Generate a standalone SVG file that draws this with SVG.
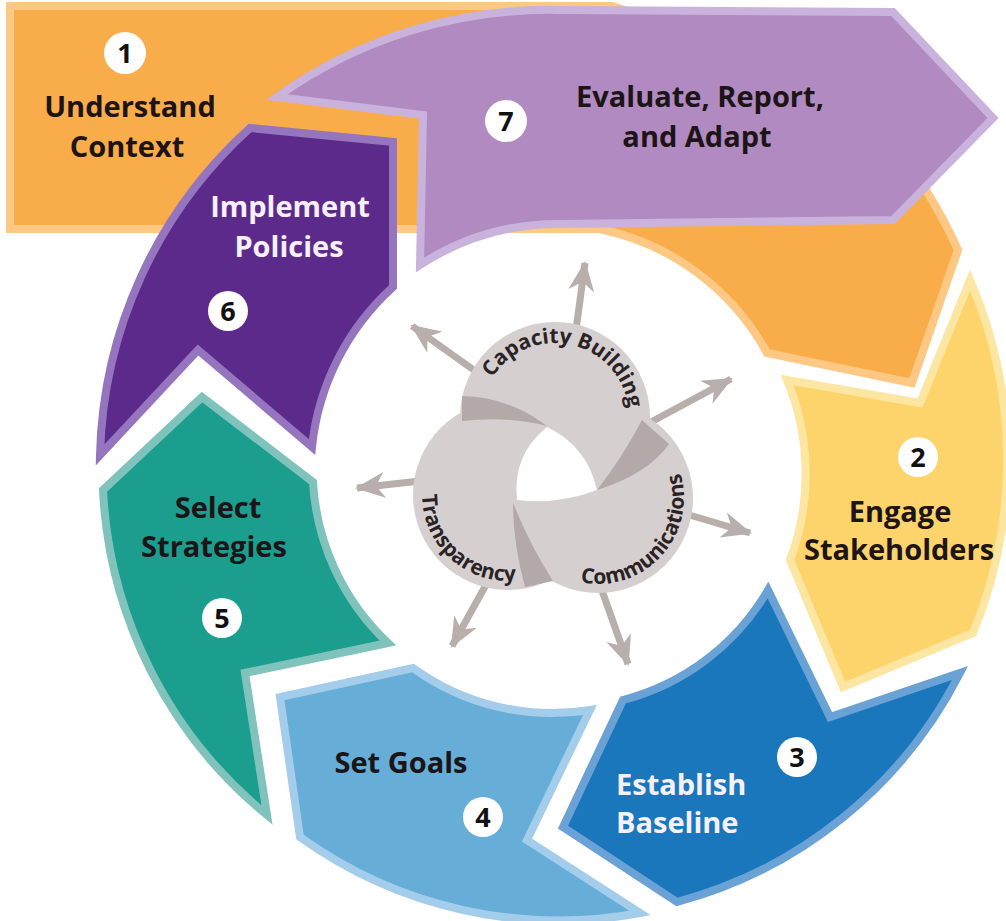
<svg xmlns="http://www.w3.org/2000/svg" width="1006" height="921" viewBox="0 0 1006 921">
<style>
.lbl{font-family:"Open Sans","Liberation Sans",sans-serif;font-weight:700;font-size:29px;text-anchor:middle;fill:#1c1416}
.wl{fill:#f6f0fa}
.num{font-family:"Open Sans","Liberation Sans",sans-serif;font-weight:700;font-size:27px;text-anchor:middle;fill:#111}
.nc{fill:#ffffff}
.ct{font-family:"Open Sans","Liberation Sans",sans-serif;font-weight:700;font-size:21px;fill:#2a2224}
.seg{stroke-width:8;stroke-linejoin:miter}
.disc{fill:#d5cfcf}
.band{fill:#b3a9a8}
.arr{stroke:#b8aeac;stroke-width:7;fill:none;marker-end:url(#ah)}
</style>
<defs>
<marker id="ah" viewBox="0 0 30 28" refX="28" refY="14" markerWidth="30" markerHeight="28" orient="auto" markerUnits="userSpaceOnUse"><path d="M0,1 L30,14 L0,27 L9,14 Z" fill="#b8aeac"/></marker>
<path id="tpCap" d="M490.9,380 A74,74 0 0,1 628.7,410.6"/>
<path id="tpTra" d="M437.6,445.7 A86,86 0 0,0 563.3,560.9"/>
<path id="tpCom" d="M548.7,568.4 A86,86 0 0,0 663.9,442.7"/>
</defs>
<rect width="1006" height="921" fill="#ffffff"/>

<g id="step1">
<path class="seg" d="M10,6 L612,6 L900,100 L927,192 A465,465 0 0,1 958,250 L912,383 L767,353 A248,248 0 0,0 600,229 L10,229 Z" fill="#f9ad4a" stroke="#fcc883"/>
<circle class="nc" cx="125" cy="53" r="21"/>
<text class="num" x="125" y="63">1</text>
<text class="lbl" x="130" y="117">Understand</text>
<text class="lbl" x="127" y="157">Context</text>
</g>

<g id="step7">
<path class="seg" d="M277,97 A468,468 0 0,1 560,10 L893,12 L993,118 L893,220 L560,224 A254,254 0 0,0 420,265 L423,115 Z" fill="#b08ac1" stroke="#c9b3dc"/>
<circle class="nc" cx="506" cy="121" r="21"/>
<text class="num" x="506" y="131">7</text>
<text class="lbl" x="700" y="107">Evaluate, Report,</text>
<text class="lbl" x="697" y="147">and Adapt</text>
</g>

<g id="step6">
<path class="seg" d="M312,447 L198,350 L100,455 A455,455 0 0,1 250,128 L393,142 L393,287 A250,250 0 0,0 312,447 Z" fill="#5c2a8b" stroke="#9576be"/>
<text class="lbl wl" x="290" y="217">Implement</text>
<text class="lbl wl" x="289" y="257">Policies</text>
<circle class="nc" cx="228" cy="311" r="20"/>
<text class="num" x="228" y="321">6</text>
</g>

<g id="step5">
<path class="seg" d="M388,643 L245,673 L267,815 A447,447 0 0,1 103,490 L202,397 L313,482 A240,240 0 0,0 388,643 Z" fill="#1c9e8f" stroke="#80c3bc"/>
<text class="lbl" x="218" y="518">Select</text>
<text class="lbl" x="214" y="557">Strategies</text>
<circle class="nc" cx="222" cy="618" r="20"/>
<text class="num" x="222" y="628">5</text>
</g>

<g id="step4">
<path class="seg" d="M590,710 L527,840 L640,913 A443,443 0 0,1 300,837 L280,697 L413,668 A237,237 0 0,0 590,710 Z" fill="#66aed8" stroke="#a3cdea"/>
<text class="lbl" x="401" y="773">Set Goals</text>
<circle class="nc" cx="483" cy="817" r="20"/>
<text class="num" x="483" y="827">4</text>
</g>

<g id="step3">
<path class="seg" d="M768,590 L830,717 L960,673 A447,447 0 0,1 677,902 L563,827 L623,700 A237,237 0 0,0 768,590 Z" fill="#1b77bb" stroke="#6aa2d6"/>
<circle class="nc" cx="797" cy="757" r="20"/>
<text class="num" x="797" y="767">3</text>
<text class="lbl wl" x="616" y="795" style="text-anchor:start">Establish</text>
<text class="lbl wl" x="616" y="833" style="text-anchor:start">Baseline</text>
</g>

<g id="step2">
<path class="seg" d="M787,380 L920,403 L970,280 A455,455 0 0,1 973,633 L843,687 L790,560 A245,245 0 0,0 787,380 Z" fill="#fdd46b" stroke="#fde5a2"/>
<circle class="nc" cx="918" cy="457" r="20"/>
<text class="num" x="918" y="467">2</text>
<text class="lbl" x="900" y="522">Engage</text>
<text class="lbl" x="899" y="560">Stakeholders</text>
</g>

<g id="connectors">
<line class="arr" x1="576" y1="330" x2="585" y2="263"/>
<line class="arr" x1="478" y1="373" x2="412" y2="326"/>
<line class="arr" x1="638" y1="429" x2="731" y2="379"/>
<line class="arr" x1="420" y1="481" x2="357" y2="488"/>
<line class="arr" x1="686" y1="514" x2="750" y2="533"/>
<line class="arr" x1="487" y1="583" x2="452" y2="646"/>
<line class="arr" x1="600" y1="585" x2="628" y2="664"/>
</g>

<g id="core">
<circle class="disc" cx="598" cy="498" r="95"/>
<circle class="disc" cx="508" cy="495" r="95"/>
<circle class="disc" cx="555" cy="417" r="95"/>
<path class="band" d="M462,396 Q509,397 547,426 Q509,416 462,421 Z"/>
<path class="band" d="M642,420 Q622,458 597,490 Q648,474 669,444 Z"/>
<path class="band" d="M513,503 Q513,543 525,587 L553,581 Q530,545 513,503 Z"/>
<path d="M547,427 Q587,446 597,490 Q558,505 517,500 Q512,455 547,427 Z" fill="#ffffff"/>
<text class="ct"><textPath href="#tpCap" startOffset="50%" text-anchor="middle">Capacity Building</textPath></text>
<text class="ct"><textPath href="#tpTra" startOffset="50%" text-anchor="middle">Transparency</textPath></text>
<text class="ct"><textPath href="#tpCom" startOffset="50%" text-anchor="middle">Communications</textPath></text>
</g>
</svg>
